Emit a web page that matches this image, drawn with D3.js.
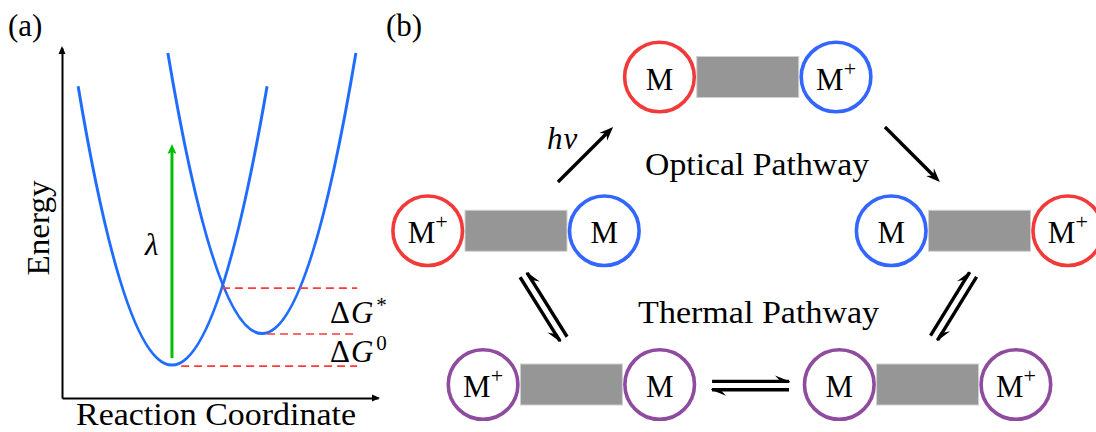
<!DOCTYPE html>
<html><head><meta charset="utf-8">
<script src="https://cdn.jsdelivr.net/npm/d3@7"></script>
<style>
html,body{margin:0;padding:0;background:#fff;} svg{display:block;}
svg text{font-family:"Liberation Serif","DejaVu Serif","Times New Roman",serif;}
</style>
</head><body>
<svg id="chart" width="1096" height="432"></svg>
<script>
// ================= DATA =================
// Panel (a): Marcus parabolas, reaction coordinate (0..1) vs energy (0..1)
const curveNames    = ["reactant", "product"];
const curveLeftEnd  = [[0.051, 0.891], [0.335, 0.986]];
const curveMinimum  = [[0.348, 0.094], [0.633, 0.184]];
const curveRightEnd = [[0.649, 0.891], [0.930, 0.986]];
const dashLevels = [0.314, 0.183, 0.091];       // crossing, product min, reactant min
const dashStarts = [0.506, 0.649, 0.377];
const dashEnd = 0.934;
const lambdaArrow = [[0.348, 0.114], [0.348, 0.723]];
const panelATexts = [
  {t: "λ",   x: 0.263, y: 0.409, sup: null},
  {t: "ΔG",  x: 0.848, y: 0.214, sup: "*"},
  {t: "ΔG",  x: 0.848, y: 0.103, sup: "0"}
];
const axisLabelX = "Reaction Coordinate";
const axisLabelY = "Energy";

// Panel (b): molecule states laid out on an abstract grid
const stateCol   = [0, -1, 1, -0.761, 0.776];
const stateRow   = [0, 1, 1, 2, 2];
const stateLeft  = ["M", "M+", "M", "M+", "M"];
const stateRight = ["M+", "M", "M+", "M", "M+"];
const stateLeftColor  = ["red", "red", "blue", "purple", "purple"];
const stateRightColor = ["blue", "blue", "red", "purple", "purple"];
// one-way optical arrows [from, to] in grid units
const opticalArrows = [
  [[-0.819, 0.683], [-0.581, 0.325]],
  [[0.592, 0.325], [0.829, 0.683]]
];
// thermal equilibria: centre line p -> q, and whether the "+normal" harpoon points to q
const equilibria = [
  {p: [-0.967, 1.288], q: [-0.795, 1.704], posToQ: false},
  {p: [0.804, 1.697],  q: [0.972, 1.285],  posToQ: true},
  {p: [-0.154, 2.007], q: [0.178, 2.007],  posToQ: true}
];
const panelBTexts = [
  {t: "Optical Pathway", x: -0.443, y: 0.637, len: 224},
  {t: "Thermal Pathway", x: -0.473, y: 1.600, len: 241}
];
const hvLabel = {x: -0.866, y: 0.468};

// ================= STYLE =================
const colors = {red: "#f23a3a", blue: "#3366ff", purple: "#8f4c9e"};
const curveColor = "#1f6dff";

const svg = d3.select("#chart");

// ================= PANEL (a) =================
const xA = d3.scaleLinear().domain([0, 1]).range([62, 378]);
const yA = d3.scaleLinear().domain([0, 1]).range([398, 48]);

const gA = svg.append("g");
gA.append("g").attr("transform", `translate(0,${yA(0)})`)
  .call(d3.axisBottom(xA).ticks(0).tickSizeOuter(0));
gA.append("g").attr("transform", `translate(${xA(0)},0)`)
  .call(d3.axisLeft(yA).ticks(0).tickSizeOuter(0));
gA.selectAll(".domain").attr("stroke", "#000").attr("stroke-width", 2);
// axis arrowheads
gA.append("path").attr("fill", "#000")
  .attr("d", `M${xA(1)+2},${yA(0)} L${xA(1)-6},${yA(0)-3.5} L${xA(1)-6},${yA(0)+3.5}Z`);
gA.append("path").attr("fill", "#000")
  .attr("d", `M${xA(0)},${yA(1)-2} L${xA(0)-3.5},${yA(1)+6} L${xA(0)+3.5},${yA(1)+6}Z`);

// parabolas as quadratic Béziers through ends with vertex at the minimum
curveNames.forEach((n, i) => {
  const p0 = [xA(curveLeftEnd[i][0]), yA(curveLeftEnd[i][1])];
  const v  = [xA(curveMinimum[i][0]), yA(curveMinimum[i][1])];
  const p2 = [xA(curveRightEnd[i][0]), yA(curveRightEnd[i][1])];
  const c = [2*v[0] - 0.5*(p0[0]+p2[0]), 2*v[1] - 0.5*(p0[1]+p2[1])];
  const path = d3.path();
  path.moveTo(p0[0], p0[1]);
  path.quadraticCurveTo(c[0], c[1], p2[0], p2[1]);
  gA.append("path").attr("d", path.toString()).attr("fill", "none")
    .attr("stroke", curveColor).attr("stroke-width", 3);
});

// dashed energy levels
dashLevels.forEach((lv, i) => {
  gA.append("line")
    .attr("x1", xA(dashStarts[i])).attr("x2", xA(dashEnd))
    .attr("y1", yA(lv)).attr("y2", yA(lv))
    .attr("stroke", "#ff3b3b").attr("stroke-width", 1.6)
    .attr("stroke-dasharray", "8,5");
});

// green reorganisation arrow
{
  const x = xA(lambdaArrow[0][0]), y0 = yA(lambdaArrow[0][1]), y1 = yA(lambdaArrow[1][1]);
  gA.append("line").attr("x1", x).attr("x2", x).attr("y1", y0).attr("y2", y1 + 6)
    .attr("stroke", "#00c000").attr("stroke-width", 3);
  gA.append("path").attr("fill", "#00c000")
    .attr("d", `M${x},${y1-1} L${x-4.5},${y1+9} L${x},${y1+7} L${x+4.5},${y1+9}Z`);
}

// labels panel (a)
panelATexts.forEach(d => {
  const t = gA.append("text").attr("x", xA(d.x)).attr("y", yA(d.y))
    .attr("font-size", 31).attr("fill", "#000");
  if (d.t === "ΔG") {
    t.append("tspan").text("Δ");
    t.append("tspan").attr("font-style", "italic").attr("dx", 1).text("G");
    t.append("tspan").attr("font-size", 21).attr("dx", 3).attr("dy", d.sup === "*" ? -11 : -12).text(d.sup);
  } else {
    t.attr("font-style", "italic").text(d.t);
  }
});
gA.append("text").attr("x", 216).attr("y", 425).attr("text-anchor", "middle")
  .attr("font-size", 31)
  .attr("textLength", 280).attr("lengthAdjust", "spacingAndGlyphs").text(axisLabelX);
gA.append("text").attr("transform", "translate(49,228) rotate(-90)").attr("text-anchor", "middle")
  .attr("font-size", 31)
  .attr("textLength", 95).attr("lengthAdjust", "spacingAndGlyphs").text(axisLabelY);
gA.append("text").attr("x", 8).attr("y", 36).attr("font-size", 31).text("(a)");

// ================= PANEL (b) =================
const bx = d3.scaleLinear().domain([-1, 1]).range([516, 979.5]);
const by = d3.scaleLinear().domain([0, 2]).range([77, 384.5]);
const gB = svg.append("g");
gB.append("text").attr("x", 386).attr("y", 36).attr("font-size", 31).text("(b)");

const circOff = 88.3, circR = 34.8, rectW = 102, rectH = 41;

function molLabel(g, x, y, label) {
  const t = g.append("text").attr("x", x).attr("y", y + 12.5).attr("text-anchor", "middle")
    .attr("font-size", 31).attr("fill", "#000");
  t.append("tspan").text("M");
  if (label.endsWith("+")) {
    t.append("tspan").attr("font-size", 22).attr("dy", -14).text("+");
  }
}

stateCol.forEach((c, i) => {
  const cx = bx(c), cy = by(stateRow[i]);
  gB.append("rect").attr("x", cx - rectW/2).attr("y", cy - rectH/2)
    .attr("width", rectW).attr("height", rectH)
    .attr("fill", "#969696").attr("stroke", "#cfcfcf").attr("stroke-width", 1);
  [[-1, stateLeft[i], stateLeftColor[i]], [1, stateRight[i], stateRightColor[i]]].forEach(([s, lab, col]) => {
    const x = cx + s*circOff;
    gB.append("circle").attr("cx", x).attr("cy", cy).attr("r", circR)
      .attr("fill", "#fff").attr("stroke", colors[col]).attr("stroke-width", 3.6);
    molLabel(gB, x, cy, lab);
  });
});

// optical arrows
opticalArrows.forEach(([a, b]) => {
  const x0 = bx(a[0]), y0 = by(a[1]), x1 = bx(b[0]), y1 = by(b[1]);
  const L = Math.hypot(x1-x0, y1-y0), dx = (x1-x0)/L, dy = (y1-y0)/L;
  const nx = dy, ny = -dx;
  gB.append("line").attr("x1", x0).attr("y1", y0).attr("x2", x1 - dx*6).attr("y2", y1 - dy*6)
    .attr("stroke", "#000").attr("stroke-width", 3.4);
  const hl = 14, hw = 5.5;
  gB.append("path").attr("fill", "#000").attr("d",
    `M${x1},${y1} L${x1-dx*hl+nx*hw},${y1-dy*hl+ny*hw} L${x1-dx*hl*0.65},${y1-dy*hl*0.65} L${x1-dx*hl-nx*hw},${y1-dy*hl-ny*hw}Z`);
});

// equilibrium harpoons
function harpoon(g, sx, sy, ex, ey, side) {
  const L = Math.hypot(ex-sx, ey-sy), dx = (ex-sx)/L, dy = (ey-sy)/L;
  g.append("line").attr("x1", sx).attr("y1", sy).attr("x2", ex).attr("y2", ey)
    .attr("stroke", "#000").attr("stroke-width", 3.4).attr("stroke-linecap", "butt");
  const hl = 14, hw = 6;
  g.append("path").attr("fill", "#000").attr("d",
    `M${ex+dx*1},${ey+dy*1} L${ex-dx*hl+side[0]*hw},${ey-dy*hl+side[1]*hw} L${ex-dx*hl*0.6},${ey-dy*hl*0.6} L${ex-dx*hl*0.6-side[0]*1.6},${ey-dy*hl*0.6-side[1]*1.6} L${ex-side[0]*1.6},${ey-side[1]*1.6}Z`);
}
equilibria.forEach(e => {
  const px = bx(e.p[0]), py = by(e.p[1]), qx = bx(e.q[0]), qy = by(e.q[1]);
  const L = Math.hypot(qx-px, qy-py), dx = (qx-px)/L, dy = (qy-py)/L;
  const n = [dy, -dx], off = 4.2;
  const pos = [px + n[0]*off, py + n[1]*off, qx + n[0]*off, qy + n[1]*off];
  const neg = [px - n[0]*off, py - n[1]*off, qx - n[0]*off, qy - n[1]*off];
  if (e.posToQ) {
    harpoon(gB, pos[0], pos[1], pos[2], pos[3], n);
    harpoon(gB, neg[2], neg[3], neg[0], neg[1], [-n[0], -n[1]]);
  } else {
    harpoon(gB, pos[2], pos[3], pos[0], pos[1], n);
    harpoon(gB, neg[0], neg[1], neg[2], neg[3], [-n[0], -n[1]]);
  }
});

// pathway text
panelBTexts.forEach(d => {
  gB.append("text").attr("x", bx(d.x)).attr("y", by(d.y))
    .attr("font-size", 31)
    .attr("textLength", d.len).attr("lengthAdjust", "spacingAndGlyphs").text(d.t);
});
{
  const t = gB.append("text").attr("x", bx(hvLabel.x)).attr("y", by(hvLabel.y))
    .attr("font-size", 31).attr("font-style", "italic");
  t.append("tspan").text("h");
  t.append("tspan").attr("dx", 1).text("ν");
}
</script>
</body></html>
